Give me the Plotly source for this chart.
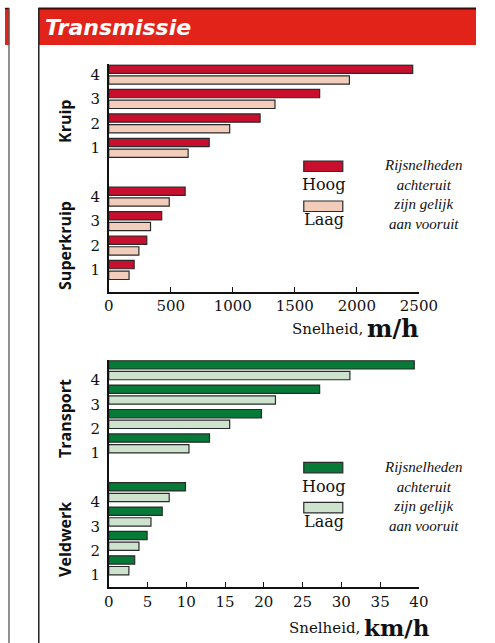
import plotly.graph_objects as go

W, H = 495, 643

# ---------------- data ----------------
gears = [1, 2, 3, 4]

# chart 1 (m/h)
kruip_hoog = [810, 1220, 1700, 2450]
kruip_laag = [640, 975, 1340, 1940]
superkruip_hoog = [205, 307, 427, 616]
superkruip_laag = [164, 243, 337, 488]

# chart 2 (km/h)
transport_hoog = [13.0, 19.7, 27.2, 39.4]
transport_laag = [10.35, 15.6, 21.5, 31.1]
veldwerk_hoog = [3.35, 4.95, 6.9, 9.9]
veldwerk_laag = [2.6, 3.9, 5.45, 7.8]

tick1 = [0, 500, 1000, 1500, 2000, 2500]
tick2 = [0, 5, 10, 15, 20, 25, 30, 35, 40]

title = "Transmissie"
note = "Rijsnelheden<br>achteruit<br>zijn gelijk<br>aan vooruit"

RED_H, RED_L = "#C8102E", "#F2CDBB"
GRN_H, GRN_L = "#077A37", "#CDE3CD"
EDGE = "#2a2a2a"

SERIF = "DejaVu Serif"
SANS = "DejaVu Sans"

low_pos = [g - 1 for g in gears]
up_pos = [g + 4 for g in gears]

def px(x):
    return x / W

def py(y):
    return 1 - y / H

fig = go.Figure()

def add_pair(vals_h, vals_l, pos, ch, cl, xa, ya):
    fig.add_trace(go.Bar(x=vals_l, y=pos, orientation="h", width=0.34, offset=-0.39,
                         marker=dict(color=cl, line=dict(color=EDGE, width=1.2)),
                         xaxis=xa, yaxis=ya, showlegend=False, hoverinfo="x"))
    fig.add_trace(go.Bar(x=vals_h, y=pos, orientation="h", width=0.34, offset=0.05,
                         marker=dict(color=ch, line=dict(color=EDGE, width=1.2)),
                         xaxis=xa, yaxis=ya, showlegend=False, hoverinfo="x"))

add_pair(kruip_hoog, kruip_laag, up_pos, RED_H, RED_L, "x", "y")
add_pair(superkruip_hoog, superkruip_laag, low_pos, RED_H, RED_L, "x", "y")
add_pair(transport_hoog, transport_laag, up_pos, GRN_H, GRN_L, "x2", "y2")
add_pair(veldwerk_hoog, veldwerk_laag, low_pos, GRN_H, GRN_L, "x2", "y2")

xdom = [px(109), px(435)]
yrange = [-0.89, 8.42]
tickfont = dict(family=SERIF, size=15, color="#111")

xcommon = dict(domain=xdom, showline=True, linecolor="#111", linewidth=1.5,
               ticks="inside", ticklen=5, tickwidth=1.3, tickcolor="#111",
               showgrid=False, zeroline=False, tickfont=tickfont, fixedrange=True)
ycommon = dict(range=yrange, showline=True, linecolor="#111", linewidth=1.5,
               ticks="", showgrid=False, zeroline=False, tickfont=tickfont,
               ticklabelstandoff=4, fixedrange=True)

ticktext_y = [str(g) for g in gears] * 2

fig.update_layout(
    width=W, height=H, margin=dict(l=0, r=0, t=0, b=0),
    paper_bgcolor="white", plot_bgcolor="white", barmode="overlay",
    xaxis=dict(anchor="y", range=[0, 2500], tickvals=tick1, **xcommon),
    yaxis=dict(anchor="x", domain=[py(291.7), py(64.3)],
               tickvals=low_pos + up_pos, ticktext=ticktext_y, **ycommon),
    xaxis2=dict(anchor="y2", range=[0, 40], tickvals=tick2, **xcommon),
    yaxis2=dict(anchor="x2", domain=[py(587), py(360)],
                tickvals=[p - 0.4 for p in low_pos + up_pos], ticktext=ticktext_y, **ycommon),
)

shapes = []
# neighbouring panel edge at the far left
shapes.append(dict(type="rect", xref="paper", yref="paper", x0=0, x1=px(4.5), y0=py(45), y1=py(8.5),
                   fillcolor="#E2231A", line=dict(width=0), layer="below"))
shapes.append(dict(type="line", xref="paper", yref="paper", x0=0, x1=px(4.5), y0=py(8.5), y1=py(8.5),
                   line=dict(color="#3a0a08", width=1.5)))
shapes.append(dict(type="line", xref="paper", yref="paper", x0=px(4.2), x1=px(4.2), y0=py(8.5), y1=0,
                   line=dict(color="#555", width=1.3)))
# main header band and panel border
shapes.append(dict(type="rect", xref="paper", yref="paper", x0=px(35.5), x1=1, y0=py(45), y1=py(8.5),
                   fillcolor="#E2231A", line=dict(width=0), layer="below"))
shapes.append(dict(type="line", xref="paper", yref="paper", x0=px(35), x1=1, y0=py(8.5), y1=py(8.5),
                   line=dict(color="#3a0a08", width=1.8)))
shapes.append(dict(type="line", xref="paper", yref="paper", x0=px(35.5), x1=px(35.5), y0=py(8), y1=0,
                   line=dict(color="#222", width=1.5)))

annotations = []
annotations.append(dict(xref="paper", yref="paper", x=px(40), y=py(28), xanchor="left", yanchor="middle",
                        text="<b><i>" + title + "</i></b>", showarrow=False,
                        font=dict(family=SANS, size=22, color="white")))

def legend(top, ch, cl):
    shapes.append(dict(type="rect", xref="paper", yref="paper", x0=px(314), x1=px(355),
                       y0=py(top + 10.5), y1=py(top), fillcolor=ch, line=dict(color=EDGE, width=1.2)))
    shapes.append(dict(type="rect", xref="paper", yref="paper", x0=px(314), x1=px(355),
                       y0=py(top + 50.5), y1=py(top + 40), fillcolor=cl, line=dict(color=EDGE, width=1.2)))
    annotations.append(dict(xref="paper", yref="paper", x=px(335), y=py(top + 24), xanchor="center",
                            yanchor="middle", text="Hoog", showarrow=False,
                            font=dict(family=SERIF, size=16, color="#111")))
    annotations.append(dict(xref="paper", yref="paper", x=px(335), y=py(top + 59), xanchor="center",
                            yanchor="middle", text="Laag", showarrow=False,
                            font=dict(family=SERIF, size=16, color="#111")))
    annotations.append(dict(xref="paper", yref="paper", x=px(439), y=py(top + 34), xanchor="center",
                            yanchor="middle", text="<i>" + note + "</i>", showarrow=False, align="center",
                            font=dict(family="Liberation Serif", size=15, color="#111")))

legend(161, RED_H, RED_L)
legend(462.3, GRN_H, GRN_L)

def group_label(text, ycen):
    annotations.append(dict(xref="paper", yref="paper", x=px(63), y=py(ycen), xanchor="center",
                            yanchor="middle", text="<b>" + text + "</b>", textangle=-90, showarrow=False,
                            font=dict(family="Open Sans", size=16, color="#111")))

group_label("Kruip", 121)
group_label("Superkruip", 245)
group_label("Transport", 418)
group_label("Veldwerk", 539)

def axis_title(unit, x_word, x_unit, ycen, usize):
    annotations.append(dict(xref="paper", yref="paper", x=px(x_word), y=py(ycen + 1), xanchor="right",
                            yanchor="middle", showarrow=False, text="Snelheid,",
                            font=dict(family=SERIF, size=15, color="#111")))
    annotations.append(dict(xref="paper", yref="paper", x=px(x_unit), y=py(ycen), xanchor="right",
                            yanchor="middle", showarrow=False, text="<b>" + unit + "</b>",
                            font=dict(family=SERIF, size=usize, color="#111")))

axis_title("m/h", 378, 437, 328, 24)
axis_title("km/h", 375, 449, 627, 23)

fig.update_layout(shapes=shapes, annotations=annotations)
post = (
    "document.documentElement.style.margin='0';document.body.style.margin='0';"
    "document.documentElement.style.overflow='hidden';document.body.style.overflow='hidden';"
)
fig.write_html("out.html", config={"displayModeBar": False}, post_script=post)
